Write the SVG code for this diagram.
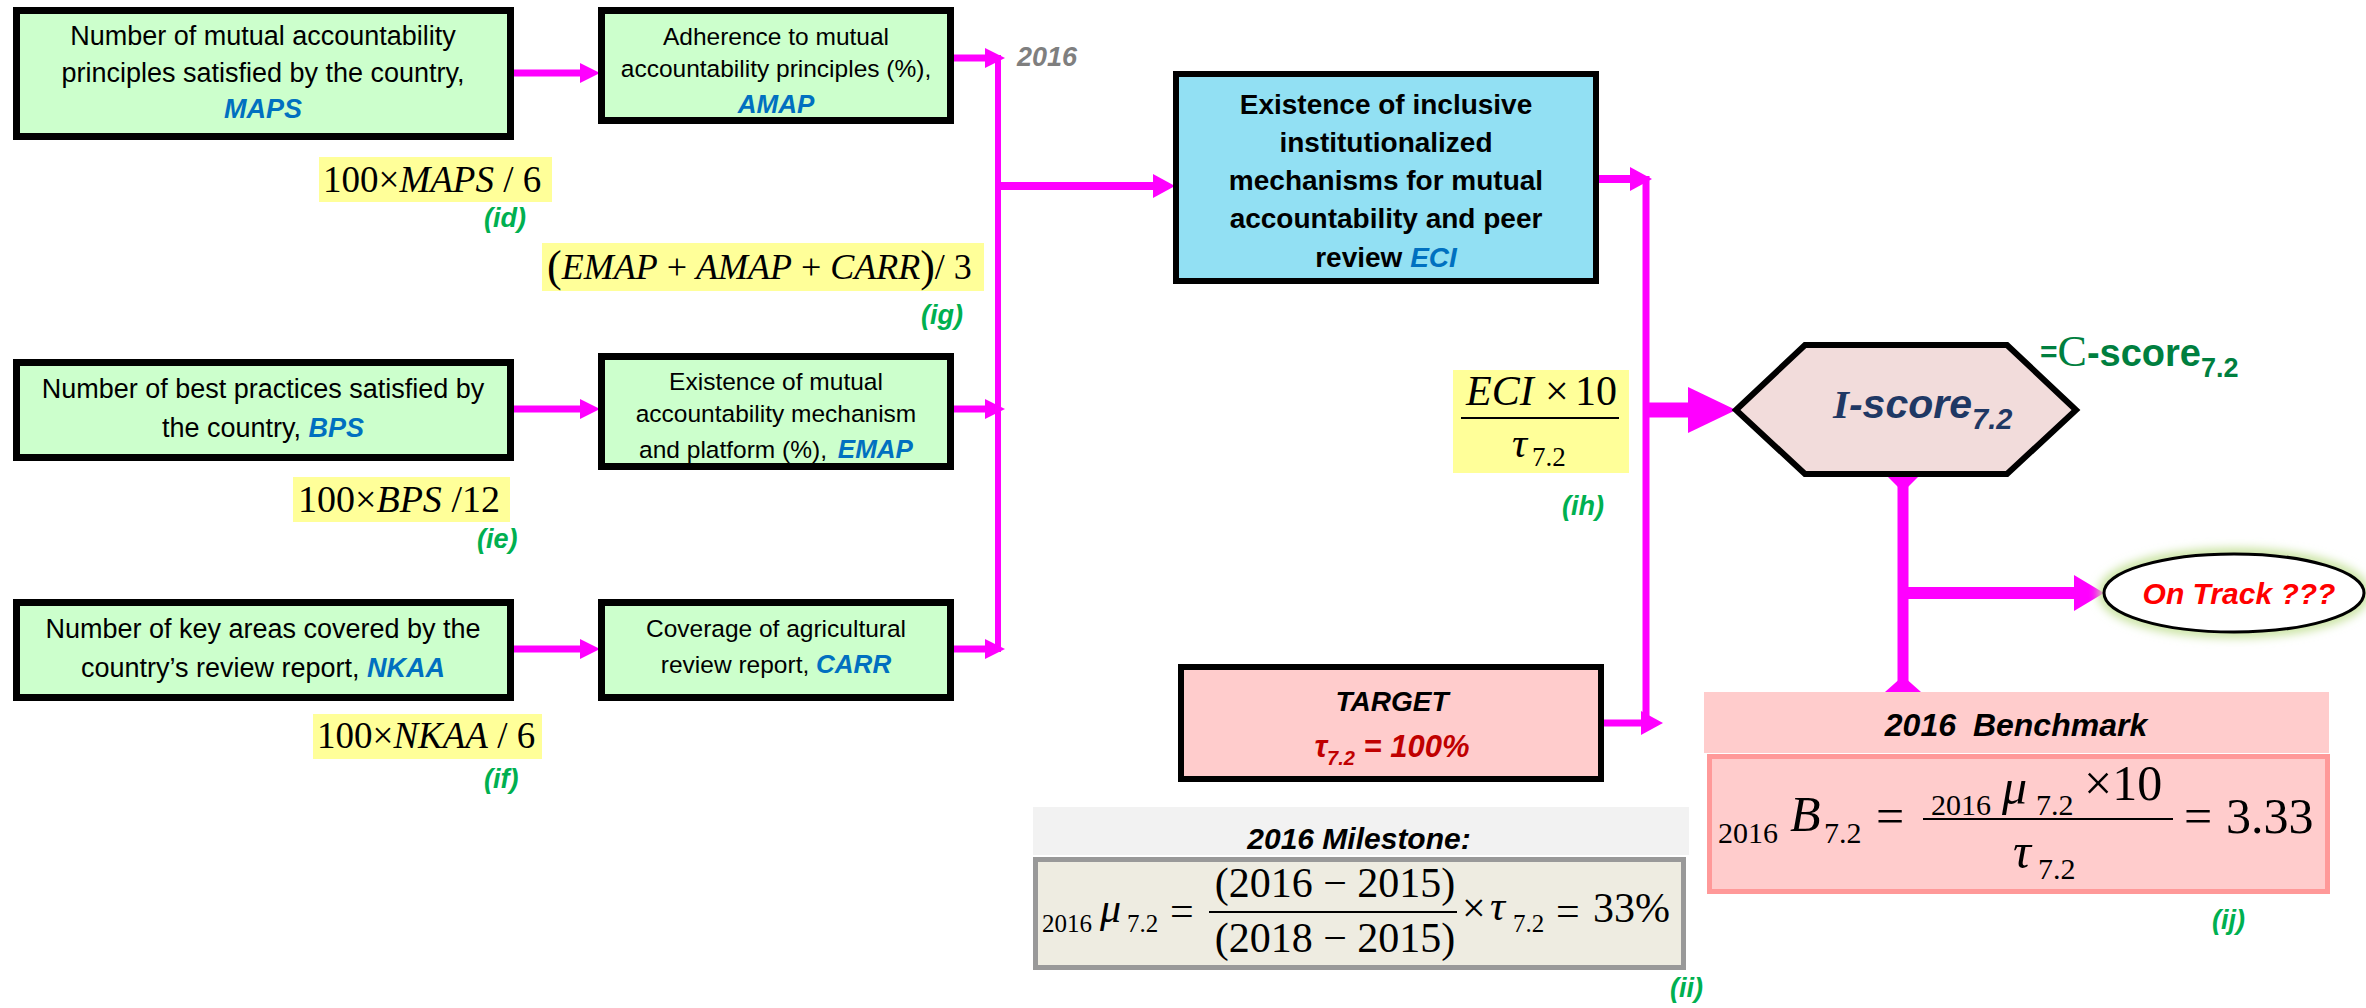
<svg xmlns="http://www.w3.org/2000/svg" width="2366" height="1008" viewBox="0 0 2366 1008">
  <defs>
    <style>
      .box{stroke:#000;stroke-width:7}
      .g{fill:#CCFFCC}
      .t{font-family:"Liberation Sans",Arial,sans-serif;fill:#000}
      .m{font-family:"Liberation Serif","Times New Roman",serif;fill:#000}
      .s{font-size:27px}
      .sm{font-size:24.5px}
      .v{fill:#0070C0;font-weight:bold;font-style:italic}
      .bi{font-weight:bold;font-style:italic}
      .lbl{font-family:"Liberation Sans",Arial,sans-serif;font-weight:bold;font-style:italic;fill:#00B050;font-size:27px}
      .hl{fill:#FFFF99}
      .mag{stroke:#FF00FF;fill:none}
      .mf{fill:#FF00FF}
      .i{font-style:italic}
    </style>
    <marker id="ah" markerUnits="userSpaceOnUse" markerWidth="20" markerHeight="20" viewBox="0 0 20 20" refX="0" refY="10" orient="auto">
      <path d="M0,0 L20,10 L0,20 z" fill="#FF00FF"/>
    </marker>
    <marker id="ah2" markerUnits="userSpaceOnUse" markerWidth="22" markerHeight="24" viewBox="0 0 22 24" refX="0" refY="12" orient="auto">
      <path d="M0,0 L22,12 L0,24 z" fill="#FF00FF"/>
    </marker>
    <filter id="glow" x="-20%" y="-40%" width="140%" height="180%">
      <feGaussianBlur stdDeviation="5"/>
    </filter>
  </defs>

  <rect width="2366" height="1008" fill="#fff"/>

  <!-- connectors -->
  <g id="connectors">
    <path class="mag" stroke-width="7" d="M514,73 H580" marker-end="url(#ah)"/>
    <path class="mag" stroke-width="7" d="M953,58 H985" marker-end="url(#ah)"/>
    <path class="mag" stroke-width="7" d="M514,409 H580" marker-end="url(#ah)"/>
    <path class="mag" stroke-width="7" d="M953,409 H985" marker-end="url(#ah)"/>
    <path class="mag" stroke-width="7" d="M514,649 H580" marker-end="url(#ah)"/>
    <path class="mag" stroke-width="7" d="M953,649 H985" marker-end="url(#ah)"/>
    <path class="mag" stroke-width="6" d="M998,55 V652"/>
    <path class="mag" stroke-width="8" d="M998,186 H1153" marker-end="url(#ah2)"/>

    <path class="mag" stroke-width="8" d="M1599,179 H1630" marker-end="url(#ah2)"/>
    <path class="mag" stroke-width="7" d="M1646,176 V726"/>
    <path class="mag" stroke-width="7" d="M1604,723 H1641" marker-end="url(#ah2)"/>
    <path class="mag" stroke-width="15" d="M1646,410 H1690"/>
    <polygon class="mf" points="1688,387 1736,410 1688,433"/>

    <path class="mag" stroke-width="11" d="M1903,476 V692"/>
    <polygon class="mf" points="1887,476 1919,476 1903,492"/>
    <polygon class="mf" points="1885,692 1921,692 1903,676"/>
    <path class="mag" stroke-width="12" d="M1903,593 H2076"/>
    <polygon class="mf" points="2074,575 2104,593 2074,611"/>
  </g>

  <!-- indicator inputs -->
  <g id="node-maps">
    <rect class="box g" x="16.5" y="10.5" width="494" height="126"/>
    <text class="t s" text-anchor="middle" x="263" y="45">Number of mutual accountability</text>
    <text class="t s" text-anchor="middle" x="263" y="82">principles satisfied by the country,</text>
    <text class="t s v" text-anchor="middle" x="263" y="118">MAPS</text>
  </g>
  <g id="node-amap">
    <rect class="box g" x="601.5" y="10.5" width="349" height="110"/>
    <text class="t sm" text-anchor="middle" x="776" y="45">Adherence to mutual</text>
    <text class="t sm" text-anchor="middle" x="776" y="77">accountability principles (%),</text>
    <text class="t sm v" text-anchor="middle" x="776" y="113" style="font-size:26px">AMAP</text>
  </g>
  <g id="node-bps">
    <rect class="box g" x="16.5" y="362.5" width="494" height="95"/>
    <text class="t s" text-anchor="middle" x="263" y="398">Number of best practices satisfied by</text>
    <text class="t s" text-anchor="middle" x="263" y="437">the country, <tspan class="v">BPS</tspan></text>
  </g>
  <g id="node-emap">
    <rect class="box g" x="601.5" y="356.5" width="349" height="110"/>
    <text class="t sm" text-anchor="middle" x="776" y="390">Existence of mutual</text>
    <text class="t sm" text-anchor="middle" x="776" y="422">accountability mechanism</text>
    <text class="t sm" text-anchor="middle" x="776" y="458">and platform (%), <tspan class="v" dx="4" style="font-size:26px">EMAP</tspan></text>
  </g>
  <g id="node-nkaa">
    <rect class="box g" x="16.5" y="602.5" width="494" height="95"/>
    <text class="t s" text-anchor="middle" x="263" y="638">Number of key areas covered by the</text>
    <text class="t s" text-anchor="middle" x="263" y="677">country’s review report, <tspan class="v">NKAA</tspan></text>
  </g>
  <g id="node-carr">
    <rect class="box g" x="601.5" y="602.5" width="349" height="95"/>
    <text class="t sm" text-anchor="middle" x="776" y="637">Coverage of agricultural</text>
    <text class="t sm" text-anchor="middle" x="776" y="673">review report, <tspan class="v" style="font-size:26px">CARR</tspan></text>
  </g>

  <!-- formulas for the inputs -->
  <g id="formula-id">
    <rect class="hl" x="319" y="157" width="233" height="45"/>
    <text class="m" x="323" y="192" font-size="37">100×<tspan class="i">MAPS</tspan> / 6</text>
    <text class="lbl" x="484" y="227">(id)</text>
  </g>
  <g id="formula-ig">
    <rect class="hl" x="542" y="243" width="442" height="48"/>
    <text class="m" x="547" y="279" font-size="36"><tspan font-size="44" dy="2">(</tspan><tspan class="i" dy="-2">EMAP</tspan> + <tspan class="i">AMAP</tspan> + <tspan class="i">CARR</tspan><tspan font-size="44" dy="2">)</tspan><tspan dy="-2">/ 3</tspan></text>
    <text class="lbl" x="921" y="324">(ig)</text>
  </g>
  <g id="formula-ie">
    <rect class="hl" x="293" y="477" width="217" height="45"/>
    <text class="m" x="298" y="512" font-size="38">100×<tspan class="i">BPS</tspan> /12</text>
    <text class="lbl" x="477" y="548">(ie)</text>
  </g>
  <g id="formula-if">
    <rect class="hl" x="313" y="714" width="229" height="45"/>
    <text class="m" x="317" y="748" font-size="37">100×<tspan class="i">NKAA</tspan> / 6</text>
    <text class="lbl" x="484" y="788">(if)</text>
  </g>

  <text id="year-label" class="t bi" x="1017" y="66" font-size="27" style="fill:#7F7F7F">2016</text>

  <!-- aggregate indicator -->
  <g id="node-eci">
    <rect x="1176" y="74" width="420" height="207" fill="#92E0F3" stroke="#000" stroke-width="6"/>
    <g class="t" font-size="28" font-weight="bold" text-anchor="middle">
      <text x="1386" y="114">Existence of inclusive</text>
      <text x="1386" y="152">institutionalized</text>
      <text x="1386" y="190">mechanisms for mutual</text>
      <text x="1386" y="228">accountability and peer</text>
      <text x="1386" y="267">review <tspan class="v">ECI</tspan></text>
    </g>
  </g>

  <g id="formula-ih">
    <rect class="hl" x="1453" y="370" width="176" height="103"/>
    <text class="m i" x="1466" y="405" font-size="42">ECI</text>
    <text class="m" x="1545" y="405" font-size="42">×</text>
    <text class="m" x="1575" y="405" font-size="42">10</text>
    <line x1="1461" y1="418" x2="1619" y2="418" stroke="#000" stroke-width="2"/>
    <text class="m i" x="1512" y="457" font-size="42">τ</text>
    <text class="m" x="1532" y="466" font-size="27">7.2</text>
    <text class="lbl" x="1562" y="515">(ih)</text>
  </g>

  <g id="node-target">
    <rect x="1181" y="667" width="420" height="112" fill="#FFCCCC" stroke="#000" stroke-width="6"/>
    <text class="t bi" x="1392" y="711" font-size="28" text-anchor="middle">TARGET</text>
    <text class="t bi" x="1392" y="757" font-size="31" text-anchor="middle" style="fill:#C00000">τ<tspan font-size="20" dy="8">7.2</tspan><tspan dy="-8"> = 100%</tspan></text>
  </g>

  <!-- score -->
  <g id="node-iscore">
    <polygon points="1736,410 1805,345 2007,345 2076,410 2007,474 1805,474" fill="#F2DCDB" stroke="#000" stroke-width="6"/>
    <text class="t bi" x="1833" y="418" font-size="41" style="fill:#1F3864"><tspan font-family="Liberation Serif, serif">I</tspan>-score<tspan font-size="29" dy="11">7.2</tspan></text>
  </g>
  <text id="cscore" class="t" x="2040" y="366" font-weight="bold" style="fill:#007F3F"><tspan font-size="30" dy="-4">=</tspan><tspan font-family="Liberation Serif, serif" font-weight="normal" font-size="44" dy="4">C</tspan><tspan font-size="38">-score</tspan><tspan font-size="27" dy="11">7.2</tspan></text>

  <g id="node-ontrack">
    <ellipse cx="2234" cy="593" rx="130" ry="39" fill="none" stroke="#C9E3A0" stroke-width="12" filter="url(#glow)"/>
    <ellipse cx="2234" cy="593" rx="130" ry="39" fill="#fff" stroke="#000" stroke-width="3"/>
    <text class="t bi" x="2239" y="604" font-size="30" text-anchor="middle" style="fill:#FF0000">On Track ???</text>
  </g>

  <!-- benchmark -->
  <g id="node-benchmark">
    <rect x="1704" y="692" width="625" height="61" fill="#FFCCCC"/>
    <text class="t bi" x="2016" y="736" font-size="32" text-anchor="middle">2016 <tspan dx="8">Benchmark</tspan></text>
    <rect x="1709.5" y="756.5" width="618" height="135" fill="#FFCCCC" stroke="#FF9999" stroke-width="5"/>
    <g class="m" font-size="50">
      <text x="1718" y="843" font-size="30">2016</text>
      <text class="i" x="1790" y="831">B</text>
      <text x="1824" y="843" font-size="30">7.2</text>
      <text x="1876" y="833">=</text>
      <line x1="1923" y1="819" x2="2173" y2="819" stroke="#000" stroke-width="2"/>
      <text x="1931" y="815" font-size="30">2016</text>
      <text class="i" x="2002" y="804">μ</text>
      <text x="2036" y="815" font-size="30">7.2</text>
      <text x="2084" y="800">×10</text>
      <text class="i" x="2013" y="868">τ</text>
      <text x="2038" y="879" font-size="30">7.2</text>
      <text x="2184" y="833">=</text>
      <text x="2226" y="833">3.33</text>
    </g>
    <text class="lbl" x="2212" y="929">(ij)</text>
  </g>

  <!-- milestone -->
  <g id="node-milestone">
    <rect x="1033" y="807" width="656" height="48" fill="#F2F2F2"/>
    <text class="t bi" x="1359" y="849" font-size="30" text-anchor="middle">2016 Milestone:</text>
    <rect x="1035.5" y="859.5" width="648" height="108" fill="#EEECE1" stroke="#999999" stroke-width="5"/>
    <g class="m" font-size="42">
      <text x="1042" y="932" font-size="25">2016</text>
      <text class="i" x="1100" y="922">μ</text>
      <text x="1127" y="932" font-size="25">7.2</text>
      <text x="1170" y="925">=</text>
      <line x1="1209" y1="912" x2="1457" y2="912" stroke="#000" stroke-width="2"/>
      <text x="1335" y="897" text-anchor="middle">(2016 − 2015)</text>
      <text x="1335" y="952" text-anchor="middle">(2018 − 2015)</text>
      <text x="1462" y="922">×</text>
      <text class="i" x="1490" y="920">τ</text>
      <text x="1513" y="932" font-size="25">7.2</text>
      <text x="1556" y="925">=</text>
      <text x="1593" y="922">33%</text>
    </g>
    <text class="lbl" x="1670" y="997">(ii)</text>
  </g>
</svg>
